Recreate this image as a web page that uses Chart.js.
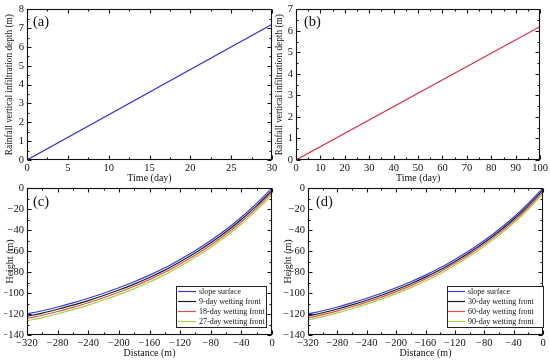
<!DOCTYPE html>
<html><head><meta charset="utf-8">
<script src="https://cdn.jsdelivr.net/npm/chart.js@4.4.1/dist/chart.umd.min.js"></script>
<style>
html,body{margin:0;padding:0;background:#fff;}
#wrap{position:relative;width:550px;height:361px;background:#fff;}
canvas{position:absolute;left:0;top:0;}
</style></head><body>
<div id="wrap">
<canvas id="ca" width="550" height="361"></canvas>
<canvas id="cb" width="550" height="361"></canvas>
<canvas id="cc" width="550" height="361"></canvas>
<canvas id="cd" width="550" height="361"></canvas>
</div>
<script>
// ---- data ----
const timeA = [0, 30];
const depthA = [0, 7.2];
const timeB = [0, 100];
const depthB = [0, 6.2];

const distance = [-320,-300,-280,-260,-240,-220,-200,-180,-160,-140,-120,-100,-80,-60,-40,-20,0];
const slopeSurface = [-120,-116.9,-113.3,-109.4,-105.0,-100.2,-95.0,-89.3,-83.0,-76.0,-68.0,-59.5,-50.0,-39.5,-27.8,-14.6,0];
const front9 = [-122.2,-119.1,-115.5,-111.6,-107.2,-102.4,-97.2,-91.5,-85.2,-78.2,-70.2,-61.7,-52.2,-41.7,-30.0,-16.8,-2.2];
const front18 = [-124.3,-121.2,-117.6,-113.7,-109.3,-104.5,-99.3,-93.6,-87.3,-80.3,-72.3,-63.8,-54.3,-43.8,-32.1,-18.9,-4.3];
const front27 = [-126.5,-123.4,-119.8,-115.9,-111.5,-106.7,-101.5,-95.8,-89.5,-82.5,-74.5,-66.0,-56.5,-46.0,-34.3,-21.1,-6.5];
const front30 = [-121.9,-118.8,-115.2,-111.3,-106.9,-102.1,-96.9,-91.2,-84.9,-77.9,-69.9,-61.4,-51.9,-41.4,-29.7,-16.5,-1.9];
const front60 = [-123.7,-120.6,-117.0,-113.1,-108.7,-103.9,-98.7,-93.0,-86.7,-79.7,-71.7,-63.2,-53.7,-43.2,-31.5,-18.3,-3.7];
const front90 = [-125.6,-122.5,-118.9,-115.0,-110.6,-105.8,-100.6,-94.9,-88.6,-81.6,-73.6,-65.1,-55.6,-45.1,-33.4,-20.2,-5.6];

const labelsC = ['slope surface','9-day wetting front','18-day wetting front','27-day wetting front'];
const labelsD = ['slope surface','30-day wetting front','60-day wetting front','90-day wetting front'];

// ---- styles ----
const FONT = '"Liberation Serif", "Times New Roman", serif';
Chart.defaults.font.family = FONT;
Chart.defaults.font.size = 10.5;
Chart.defaults.color = '#111';
const COLORS = ['#3838d8', '#1a1a1a', '#d4544c', '#a4d044'];
const LW = 1.2;

const pts = (xs, ys) => xs.map((x, i) => ({x: x, y: ys[i]}));
const fmt = v => v < 0 ? '\u2212' + Math.abs(v) : String(v);

const framePlugin = {
  id: 'frame',
  afterDatasetsDraw(chart) {
    const {ctx, chartArea: a} = chart;
    const xs = chart.scales.x, ys = chart.scales.y;
    const L = Math.round(a.left) + 0.5, R = Math.round(a.right) - 0.5;
    const T = Math.round(a.top) + 0.5, B = Math.round(a.bottom) - 0.5;
    const mj = 4, mn = 2;
    ctx.save();
    ctx.strokeStyle = '#111';
    ctx.lineWidth = 1.1;
    ctx.beginPath();
    const xt = xs.ticks.map(t => t.value);
    const dx = xt[1] - xt[0];
    xt.forEach((v, i) => {
      const p = Math.round(xs.getPixelForValue(v)) + 0.5;
      ctx.moveTo(p, B); ctx.lineTo(p, B - mj);
      ctx.moveTo(p, T); ctx.lineTo(p, T + mj);
      if (i < xt.length - 1) {
        const q = Math.round(xs.getPixelForValue(v + dx / 2)) + 0.5;
        ctx.moveTo(q, B); ctx.lineTo(q, B - mn);
        ctx.moveTo(q, T); ctx.lineTo(q, T + mn);
      }
    });
    const yt = ys.ticks.map(t => t.value);
    const dy = yt[1] - yt[0];
    yt.forEach((v, i) => {
      const p = Math.round(ys.getPixelForValue(v)) + 0.5;
      ctx.moveTo(L, p); ctx.lineTo(L + mj, p);
      ctx.moveTo(R, p); ctx.lineTo(R - mj, p);
      if (i < yt.length - 1) {
        const q = Math.round(ys.getPixelForValue(v + dy / 2)) + 0.5;
        ctx.moveTo(L, q); ctx.lineTo(L + mn, q);
        ctx.moveTo(R, q); ctx.lineTo(R - mn, q);
      }
    });
    ctx.stroke();
    ctx.strokeRect(L, T, R - L, B - T);
    ctx.restore();
  }
};

const panelPlugin = {
  id: 'panel',
  afterDraw(chart, args, o) {
    if (!o || !o.text) return;
    const ctx = chart.ctx;
    ctx.save();
    ctx.font = '14.5px ' + FONT;
    ctx.fillStyle = '#111';
    ctx.textBaseline = 'middle';
    ctx.textAlign = 'left';
    ctx.fillText(o.text, o.x, o.y);
    ctx.restore();
  }
};

const boxLegendPlugin = {
  id: 'boxLegend',
  afterDraw(chart, args, o) {
    if (!o || !o.show) return;
    const ctx = chart.ctx;
    ctx.save();
    ctx.fillStyle = '#fff';
    ctx.fillRect(o.x, o.y, o.w, o.h);
    ctx.strokeStyle = '#222';
    ctx.lineWidth = 1;
    ctx.strokeRect(o.x + 0.5, o.y + 0.5, o.w, o.h);
    ctx.font = o.fontSize + 'px ' + FONT;
    ctx.textBaseline = 'middle';
    ctx.textAlign = 'left';
    chart.data.datasets.forEach((ds, i) => {
      const yy = Math.round(o.y + o.first + i * o.gap) + 0.5;
      ctx.strokeStyle = ds.borderColor;
      ctx.lineWidth = LW;
      ctx.beginPath();
      ctx.moveTo(o.x + o.l1, yy);
      ctx.lineTo(o.x + o.l2, yy);
      ctx.stroke();
      ctx.fillStyle = '#111';
      ctx.fillText(ds.label, o.x + o.tx, yy);
    });
    ctx.restore();
  }
};

function makeChart(id, cfg) {
  const titleFont = {family: FONT, size: 10};
  return new Chart(document.getElementById(id), {
    type: 'line',
    data: {datasets: cfg.datasets},
    plugins: [framePlugin, panelPlugin, boxLegendPlugin],
    options: {
      responsive: false,
      animation: false,
      events: [],
      devicePixelRatio: 1,
      layout: {padding: cfg.padding},
      elements: {point: {radius: 0}, line: {borderWidth: LW, tension: 0}},
      plugins: {
        legend: {display: false},
        tooltip: {enabled: false},
        panel: cfg.panel,
        boxLegend: cfg.legend || {show: false}
      },
      scales: {
        x: {
          type: 'linear', min: cfg.xr[0], max: cfg.xr[1],
          grid: {display: false, drawTicks: false},
          border: {display: false},
          ticks: {stepSize: cfg.xr[2], autoSkip: false, maxRotation: 0, padding: 2, callback: fmt},
          title: {display: true, text: cfg.xTitle, font: titleFont, padding: 0},
          afterFit: s => { s.height = cfg.xH; }
        },
        y: {
          type: 'linear', min: cfg.yr[0], max: cfg.yr[1],
          grid: {display: false, drawTicks: false},
          border: {display: false},
          ticks: {stepSize: cfg.yr[2], autoSkip: false, padding: 3, callback: fmt},
          title: {display: true, text: cfg.yTitle, font: cfg.yTitleFont || titleFont, padding: 0},
          afterFit: s => { s.width = cfg.yW; }
        }
      }
    }
  });
}

const curveSet = (labels, arrays) => arrays.map((arr, i) => ({
  label: labels[i], data: pts(distance, arr), borderColor: COLORS[i], borderWidth: LW,
  cubicInterpolationMode: 'monotone', pointRadius: 0, fill: false
}));

const rainTitleFont = {family: FONT, size: 9.3};

makeChart('ca', {
  datasets: [{label: 'a', data: pts(timeA, depthA), borderColor: '#3838d8', borderWidth: LW}],
  padding: {left: 4, right: 278, top: 8, bottom: 176.5},
  yW: 23, xH: 24.5,
  xr: [0, 30, 5], yr: [0, 8, 1],
  xTitle: 'Time (day)', yTitle: 'Rainfall vertical infiltration depth (m)', yTitleFont: rainTitleFont,
  panel: {text: '(a)', x: 33, y: 22}
});
makeChart('cb', {
  datasets: [{label: 'b', data: pts(timeB, depthB), borderColor: '#d8334a', borderWidth: LW}],
  padding: {left: 274, right: 9, top: 8, bottom: 176.5},
  yW: 22, xH: 24.5,
  xr: [0, 100, 10], yr: [0, 7, 1],
  xTitle: 'Time (day)', yTitle: 'Rainfall vertical infiltration depth (m)', yTitleFont: rainTitleFont,
  panel: {text: '(b)', x: 304, y: 22}
});
makeChart('cc', {
  datasets: curveSet(labelsC, [slopeSurface, front9, front18, front27]),
  padding: {left: 4, right: 278, top: 188, bottom: 2},
  yW: 23, xH: 24,
  xr: [-320, 0, 40], yr: [-140, 0, 20],
  xTitle: 'Distance (m)', yTitle: 'Height (m)',
  panel: {text: '(c)', x: 33, y: 202},
  legend: {show: true, x: 176, y: 286, w: 90, h: 41, first: 5, gap: 9.9, l1: 2, l2: 20, tx: 23, fontSize: 8}
});
makeChart('cd', {
  datasets: curveSet(labelsD, [slopeSurface, front30, front60, front90]),
  padding: {left: 282, right: 7, top: 188, bottom: 2},
  yW: 26, xH: 24,
  xr: [-320, 0, 40], yr: [-140, 0, 20],
  xTitle: 'Distance (m)', yTitle: 'Height (m)',
  panel: {text: '(d)', x: 316, y: 202},
  legend: {show: true, x: 447, y: 286, w: 96, h: 41, first: 5, gap: 9.9, l1: 1, l2: 18, tx: 21, fontSize: 8}
});
</script>
</body></html>
